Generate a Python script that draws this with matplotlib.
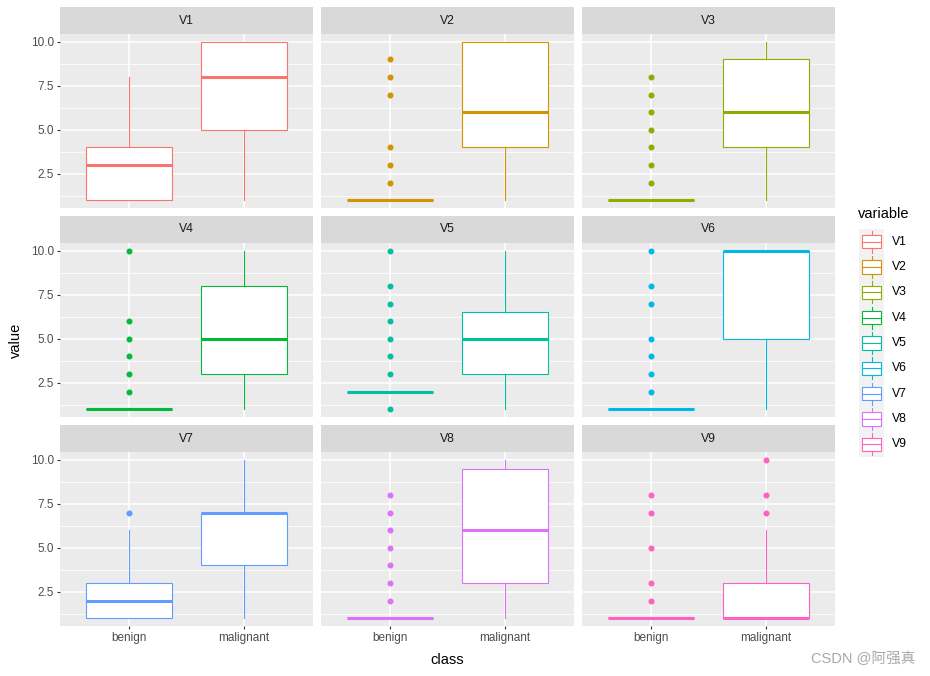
import numpy as np
import matplotlib.pyplot as plt
from matplotlib.patches import Rectangle

plt.rcParams['font.family'] = ['Liberation Sans', 'Noto Sans CJK SC', 'DejaVu Sans']

# box statistics: (whislo, q1, med, q3, whishi, fliers)
variables = ["V1", "V2", "V3", "V4", "V5", "V6", "V7", "V8", "V9"]
classes = ["benign", "malignant"]
colors = ["#F8766D", "#D39200", "#93AA00", "#00BA38", "#00C19F",
          "#00B9E3", "#619CFF", "#DB72FB", "#FF61C3"]

benign_stats = [
    (1, 1, 3, 4, 8, []),
    (1, 1, 1, 1, 1, [2, 3, 4, 7, 8, 9]),
    (1, 1, 1, 1, 1, [2, 3, 4, 5, 6, 7, 8]),
    (1, 1, 1, 1, 1, [2, 3, 4, 5, 6, 10]),
    (2, 2, 2, 2, 2, [1, 3, 4, 5, 6, 7, 8, 10]),
    (1, 1, 1, 1, 1, [2, 3, 4, 5, 7, 8, 10]),
    (1, 1, 2, 3, 6, [7]),
    (1, 1, 1, 1, 1, [2, 3, 4, 5, 6, 7, 8]),
    (1, 1, 1, 1, 1, [2, 3, 5, 7, 8]),
]
malignant_stats = [
    (1, 5, 8, 10, 10, []),
    (1, 4, 6, 10, 10, []),
    (1, 4, 6, 9, 10, []),
    (1, 3, 5, 8, 10, []),
    (1, 3, 5, 6.5, 10, []),
    (1, 5, 10, 10, 10, []),
    (1, 4, 7, 7, 10, []),
    (1, 3, 6, 9.5, 10, []),
    (1, 1, 1, 3, 6, [7, 8, 10]),
]

W, H = 930, 676
fig = plt.figure(figsize=(W / 100, H / 100), dpi=100)


def px_axes(x, y, w, h):
    return fig.add_axes([x / W, 1 - (y + h) / H, w / W, h / H])


col_x = [60, 321, 582]
row_y = [34, 243, 452]
pw, ph, sh = 253, 174, 27

for i, var in enumerate(variables):
    r, c = divmod(i, 3)
    ax = px_axes(col_x[c], row_y[r], pw, ph)
    ax.set_facecolor("#EBEBEB")
    for s in ax.spines.values():
        s.set_visible(False)
    col = colors[i]
    stats = []
    for st, lab in zip([benign_stats[i], malignant_stats[i]], classes):
        lo, q1, med, q3, hi, fl = st
        stats.append(dict(whislo=lo, q1=q1, med=med, q3=q3, whishi=hi,
                          fliers=fl, label=lab))
    ax.bxp(stats, positions=[1, 2], widths=0.75, patch_artist=True,
           showcaps=False,
           boxprops=dict(facecolor="white", edgecolor=col, linewidth=0.8),
           whiskerprops=dict(color=col, linewidth=0.8),
           medianprops=dict(color=col, linewidth=2.2, solid_capstyle="butt"),
           flierprops=dict(marker="o", markerfacecolor=col, markeredgecolor=col,
                           markersize=3.3))
    ax.set_xlim(0.4, 2.6)
    ax.set_ylim(0.55, 10.45)
    ax.set_yticks([2.5, 5.0, 7.5, 10.0])
    ax.set_yticks([1.25, 3.75, 6.25, 8.75], minor=True)
    ax.set_xticks([1, 2])
    ax.set_axisbelow(True)
    ax.grid(True, which="major", color="white", linewidth=1.1)
    ax.grid(True, which="minor", axis="y", color="white", linewidth=0.55)
    ax.tick_params(which="minor", length=0)
    ax.tick_params(which="major", length=2.5, color="#333333",
                   labelcolor="#4D4D4D", labelsize=8.5, pad=2)
    if c == 0:
        ax.set_yticklabels(["2.5", "5.0", "7.5", "10.0"])
    else:
        ax.tick_params(axis="y", length=0, labelleft=False)
    if r == 2:
        ax.set_xticklabels(classes)
    else:
        ax.tick_params(axis="x", length=0, labelbottom=False)

    sax = px_axes(col_x[c], row_y[r] - sh, pw, sh)
    sax.set_facecolor("#D9D9D9")
    sax.set_xticks([])
    sax.set_yticks([])
    for s in sax.spines.values():
        s.set_visible(False)
    sax.text(0.5, 0.5, var, ha="center", va="center", fontsize=8.8,
             color="#1A1A1A", transform=sax.transAxes)

fig.text(16 / W, 1 - 340 / H, "value", rotation=90, ha="center", va="center",
         fontsize=10.5)
fig.text(447 / W, 1 - 660 / H, "class", ha="center", va="center", fontsize=10.5)

# legend
fig.text(858 / W, 1 - 214 / H, "variable", ha="left", va="center", fontsize=10.5)
lax = px_axes(859, 229, 25, 228)
lax.set_xlim(0, 1)
lax.set_ylim(len(variables), 0)
lax.set_facecolor("#F2F2F2")
lax.set_xticks([])
lax.set_yticks([])
for s in lax.spines.values():
    s.set_visible(False)
for k, (var, col) in enumerate(zip(variables, colors)):
    yc = k + 0.5
    lax.plot([0.5, 0.5], [k + 0.06, k + 0.94], color=col, lw=0.8, zorder=2)
    lax.add_patch(Rectangle((0.12, yc - 0.26), 0.76, 0.52, facecolor="white",
                            edgecolor=col, lw=0.8, zorder=3))
    lax.plot([0.12, 0.88], [yc, yc], color=col, lw=0.8, zorder=4)
    fig.text(892 / W, 1 - (229 + (k + 0.5) * 228 / 9) / H, var, ha="left",
             va="center", fontsize=8.8)

fig.text(915 / W, 1 - 659 / H, "CSDN @阿强真", ha="right", va="center",
         fontsize=10.5, color="#A8A8A8")

fig.savefig("out.png", dpi=100)
